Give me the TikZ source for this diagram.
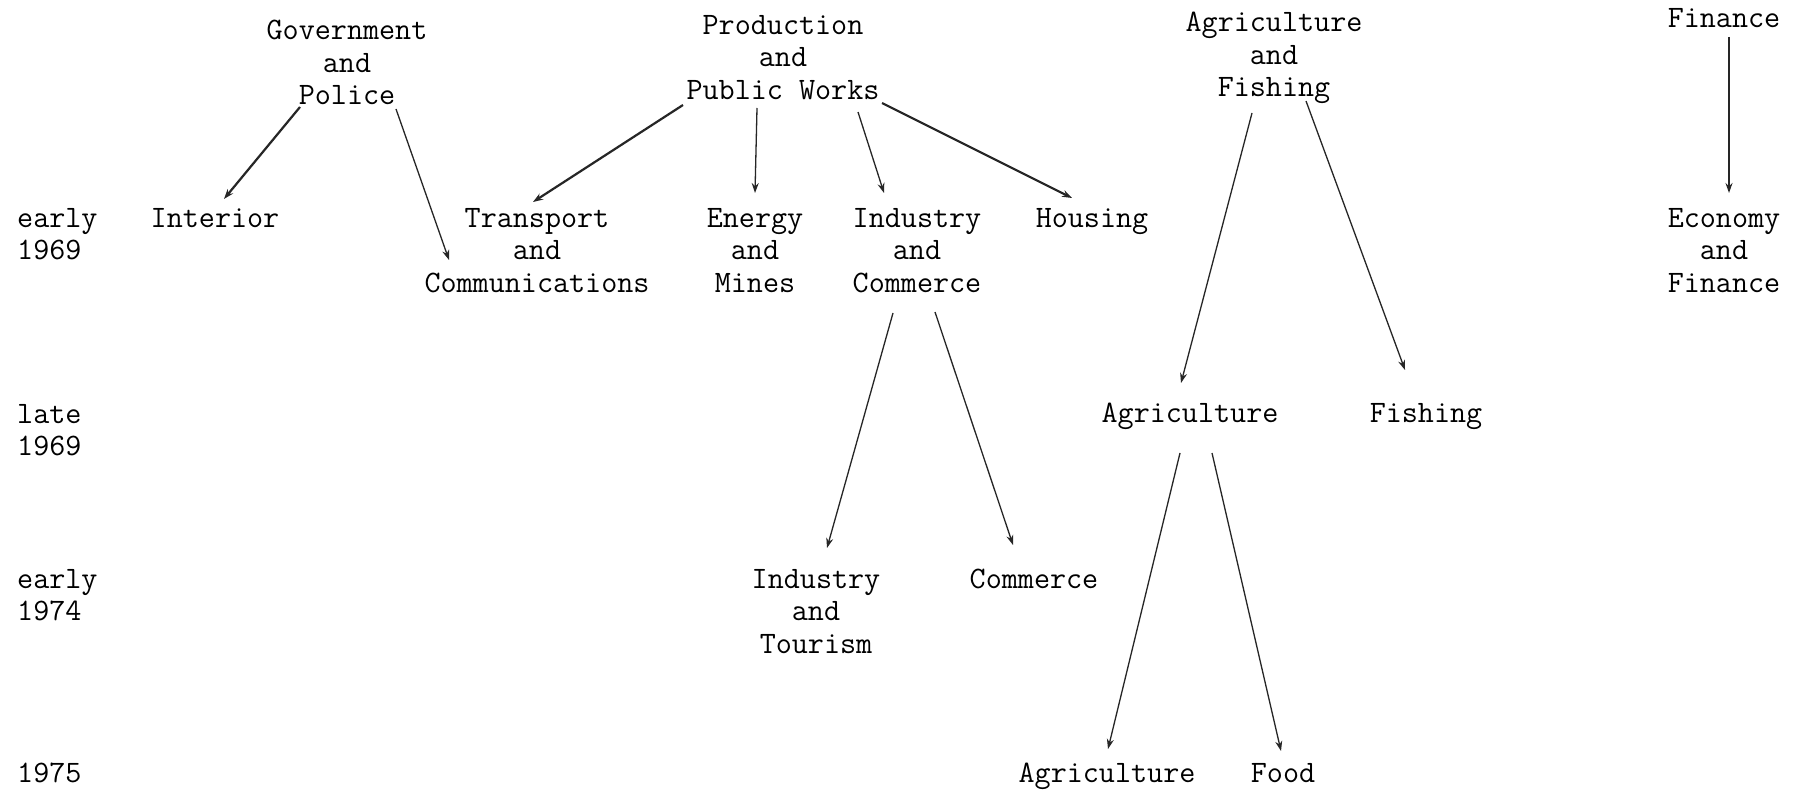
\documentclass[tikz,border=0pt]{standalone}
\usetikzlibrary{arrows.meta,calc}
\begin{document}
\begin{tikzpicture}[x=1pt,y=-1pt,
  lbl/.style={font=\ttfamily\fontsize{31.2}{32.5}\selectfont, text=black, inner sep=0pt, align=center, anchor=north},
  yr/.style={lbl, align=left, anchor=north west},
  arr/.style={-{Stealth[length=10pt,width=7pt]}, line width=1.3pt, draw=black!85},
  heavyarr/.style={arr, line width=2.2pt}]
\useasboundingbox[fill=white] (0,0) rectangle (1806,791);

% year labels
\node[yr] (e69) at (17,208) {early\\1969};
\node[yr] (l69) at (17,404) {late\\1969};
\node[yr] (e74) at (17,569) {early\\1974};
\node[yr] (y75) at (17,763) {1975};

% top row
\node[lbl] (gov) at (347,20) {Government\\and\\Police};
\node[lbl] (prod) at (783,15) {Production\\and\\Public Works};
\node[lbl] (agfi) at (1274,12) {Agriculture\\and\\Fishing};
\node[lbl] (fin) at (1724,8) {Finance};

% early 1969
\node[lbl] (interior) at (215,208) {Interior};
\node[lbl] (transport) at (537,208) {Transport\\and\\Communications};
\node[lbl] (energy) at (755,208) {Energy\\and\\Mines};
\node[lbl] (indcom) at (917,208) {Industry\\and\\Commerce};
\node[lbl] (housing) at (1092,208) {Housing};
\node[lbl] (econ) at (1724,208) {Economy\\and\\Finance};

% late 1969
\node[lbl] (agri1) at (1190,403) {Agriculture};
\node[lbl] (fish) at (1426,403) {Fishing};

% early 1974
\node[lbl] (indtour) at (816,569) {Industry\\and\\Tourism};
\node[lbl] (comm) at (1034,569) {Commerce};

% 1975
\node[lbl] (agri2) at (1107,763) {Agriculture};
\node[lbl] (food) at (1283,763) {Food};

% connectors
\draw[heavyarr] ($(gov.north)+(-47,87)$) -- ($(interior.north)+(9,-9)$);
\draw[arr] ($(gov.north)+(49,89)$) -- ($(transport.north)+(-88,52)$);
\draw[heavyarr] ($(prod.north)+(-100,90)$) -- ($(transport.north)+(-4,-6)$);
\draw[arr] ($(prod.north)+(-26,93)$) -- ($(energy.north)+(0,-15)$);
\draw[arr] ($(prod.north)+(75,97)$) -- ($(indcom.north)+(-33,-15)$);
\draw[heavyarr] ($(prod.north)+(99,88)$) -- ($(housing.north)+(-20,-10)$);
\draw[arr] ($(agfi.north)+(-22,101)$) -- ($(agri1.north)+(-9,-20)$);
\draw[arr] ($(agfi.north)+(32,89)$) -- ($(fish.north)+(-21,-33)$);
\draw[arr] ($(fin.north)+(5,29)$) -- ($(econ.north)+(5,-15)$);
\draw[arr] ($(indcom.north)+(-24,105)$) -- ($(indtour.north)+(11,-21)$);
\draw[arr] ($(indcom.north)+(18,104)$) -- ($(comm.north)+(-21,-24)$);
\draw[arr] ($(agri1.north)+(-10,50)$) -- ($(agri2.north)+(1,-14)$);
\draw[arr] ($(agri1.north)+(22,50)$) -- ($(food.north)+(-2,-12)$);
\end{tikzpicture}
\end{document}
